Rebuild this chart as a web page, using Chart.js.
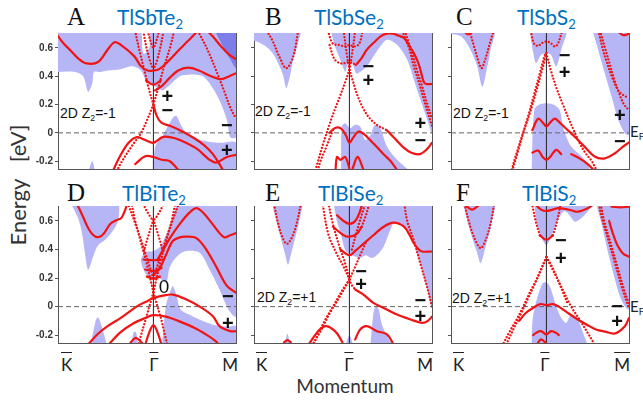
<!DOCTYPE html>
<html>
<head>
<meta charset="utf-8">
<script src="https://cdn.jsdelivr.net/npm/chart.js@4.4.1/dist/chart.umd.min.js"></script>
<style>
html, body { margin: 0; padding: 0; background: #fff; }
#wrap { position: relative; width: 643px; height: 400px; overflow: hidden; }
#wrap canvas { position: absolute; }
.t { position: absolute; white-space: nowrap; line-height: 1; }
.let { font-family: "Liberation Serif", serif; font-size: 25px; color: #111; }
.ttl { font-family: Lato, sans-serif; font-size: 21px; color: #0070c0; }
.ttl sub, .z sub, .ef sub { font-size: 0.62em; vertical-align: -0.3em; line-height: 0; }
.z { font-family: "Liberation Sans", Arial, sans-serif; font-size: 14px; color: #111; }
.ef { font-family: Lato, sans-serif; font-size: 15px; color: #222; }
.kp { font-family: Lato, sans-serif; font-size: 17px; color: #222; }
.kp span { display: inline-block; border-top: 1.6px solid #222; padding-top: 3px; line-height: 1; }
.ax { font-family: Lato, sans-serif; font-size: 19px; color: #333; }
</style>
</head>
<body>
<div id="wrap">
  <div class="t let" style="left:67px;top:4px">A</div>
  <div class="t let" style="left:265px;top:4px">B</div>
  <div class="t let" style="left:456px;top:4px">C</div>
  <div class="t let" style="left:67px;top:180px">D</div>
  <div class="t let" style="left:265px;top:180px">E</div>
  <div class="t let" style="left:456px;top:180px">F</div>

  <div class="t ttl" style="left:117px;top:6px">TlSbTe<sub>2</sub></div>
  <div class="t ttl" style="left:314px;top:6px">TlSbSe<sub>2</sub></div>
  <div class="t ttl" style="left:517px;top:6px">TlSbS<sub>2</sub></div>
  <div class="t ttl" style="left:122px;top:182px">TlBiTe<sub>2</sub></div>
  <div class="t ttl" style="left:318px;top:182px">TlBiSe<sub>2</sub></div>
  <div class="t ttl" style="left:522px;top:182px">TlBiS<sub>2</sub></div>

  <div class="t z" style="left:60px;top:106px">2D Z<sub>2</sub>=-1</div>
  <div class="t z" style="left:255px;top:104px">2D Z<sub>2</sub>=-1</div>
  <div class="t z" style="left:453px;top:106px">2D Z<sub>2</sub>=-1</div>
  <div class="t z" style="left:257px;top:290px">2D Z<sub>2</sub>=+1</div>
  <div class="t z" style="left:452px;top:291px">2D Z<sub>2</sub>=+1</div>

  <div class="t ef" style="left:630px;top:124px">E<sub>F</sub></div>
  <div class="t ef" style="left:630px;top:299px">E<sub>F</sub></div>

  <div class="t kp" style="left:61px;top:352px"><span>K</span></div>
  <div class="t kp" style="left:154px;top:352px;transform:translateX(-50%)"><span>Γ</span></div>
  <div class="t kp" style="left:238px;top:352px;transform:translateX(-100%)"><span>M</span></div>
  <div class="t kp" style="left:256px;top:352px"><span>K</span></div>
  <div class="t kp" style="left:349px;top:352px;transform:translateX(-50%)"><span>Γ</span></div>
  <div class="t kp" style="left:433px;top:352px;transform:translateX(-100%)"><span>M</span></div>
  <div class="t kp" style="left:453px;top:352px"><span>K</span></div>
  <div class="t kp" style="left:545px;top:352px;transform:translateX(-50%)"><span>Γ</span></div>
  <div class="t kp" style="left:630px;top:352px;transform:translateX(-100%)"><span>M</span></div>

  <div class="t ax" style="left:345px;top:376px;transform:translateX(-50%)">Momentum</div>
  <div class="t ax" style="left:18px;top:185px;font-size:22px;transform:translate(-50%,-50%) rotate(-90deg);white-space:pre">Energy   [eV]</div>
</div>

<script>
// momentum axis: K at -1.155, Gamma at 0, M at 1 ; energy in eV
const kMin = -1.155, kMax = 1.0;
const eMin = -0.255, eMax = 0.705;
const eTicks = [-0.2, 0, 0.2, 0.4, 0.6];

// ---------- TlSbTe2 ----------
const shadeA = [
  [[-1.155,0.75],[-0.19,0.75],[-0.12,0.56],[-0.05,0.6],[-0.02,0.75],[1.0,0.75],[1.0,-0.03],[0.93,-0.03],[0.89,0.09],[0.8,0.23],[0.68,0.35],[0.6,0.40],[0.52,0.41],[0.42,0.41],[0.32,0.40],[0.2,0.34],[0.11,0.30],[0.05,0.32],[-0.03,0.34],[-0.1,0.38],[-0.15,0.44],[-0.25,0.47],[-0.4,0.45],[-0.55,0.44],[-0.65,0.43],[-0.72,0.43],[-0.74,0.35],[-0.79,0.29],[-0.85,0.40],[-0.95,0.43],[-1.155,0.43]],
  [[0.0,-0.3],[0.02,-0.1],[0.1,-0.03],[0.18,0.05],[0.24,0.11],[0.28,0.12],[0.33,0.06],[0.4,0.0],[0.5,-0.04],[0.65,-0.06],[0.8,-0.07],[1.0,-0.07],[1.0,-0.3]],
  [[-0.8,-0.3],[-0.74,-0.2],[-0.7,-0.3]]
];
const darkA = [
  [[0.72,0.75],[1.0,0.75],[1.0,0.46],[0.93,0.52],[0.85,0.6],[0.78,0.68]]
];
const solidA = [
  [[-1.2,0.72],[-1.1,0.64],[-1.0,0.58],[-0.9,0.52],[-0.81,0.49],[-0.67,0.50],[-0.55,0.59],[-0.47,0.64],[-0.39,0.62],[-0.23,0.54],[-0.15,0.47],[-0.07,0.44],[0,0.44],[0.07,0.45],[0.17,0.50],[0.3,0.58],[0.42,0.65],[0.52,0.71],[0.56,0.74]],
  [[0.62,0.74],[0.72,0.68],[0.82,0.61],[0.92,0.55],[1.0,0.52]],
  [[0.02,0.30],[0.1,0.33],[0.2,0.39],[0.3,0.44],[0.42,0.46],[0.55,0.44],[0.7,0.40],[0.82,0.38],[0.92,0.40],[1.0,0.42]],
  [[-0.5,-0.28],[-0.4,-0.16],[-0.3,-0.07],[-0.2,-0.03],[-0.1,-0.05],[0,-0.07],[0.11,-0.03],[0.2,-0.03],[0.32,-0.05],[0.52,-0.11],[0.68,-0.19],[0.76,-0.21],[0.89,-0.17],[1.0,-0.155]],
  [[0,0.2],[0.04,0.12],[0.1,0.07],[0.2,0.05],[0.35,0.01],[0.5,-0.04],[0.62,-0.09],[0.72,-0.15],[0.8,-0.22],[0.86,-0.28]],
  [[-0.22,-0.22],[-0.1,-0.165],[0,-0.17],[0.1,-0.19],[0.2,-0.2],[0.3,-0.26]],
  [[-0.09,0.37],[0,0.34],[0.09,0.37]]
];
const dottedA = [
  [[0.54,0.72],[0.66,0.58],[0.76,0.44],[0.86,0.29],[0.93,0.18],[1.0,0.10]],
  [[0,0.2],[-0.05,0.3],[-0.1,0.42],[-0.16,0.56],[-0.23,0.74]],
  [[0,0.2],[0.06,0.32],[0.12,0.45],[0.2,0.6],[0.26,0.74]],
  [[0,0.2],[-0.07,0.1],[-0.15,0.0],[-0.27,-0.1],[-0.4,-0.22],[-0.45,-0.28]],
  [[-0.13,0.74],[-0.07,0.57],[0,0.46],[0.07,0.57],[0.13,0.74]],
  [[-0.08,0.74],[-0.03,0.64],[0,0.6],[0.03,0.64],[0.08,0.74]]
];
const signsA = [[0.17,0.25,'+'],[0.17,0.15,'−'],[0.89,0.045,'−'],[0.89,-0.13,'+']];

// ---------- TlSbSe2 ----------
const shadeB = [
  [[-1.155,0.75],[-0.6,0.75],[-0.62,0.634],[-0.68,0.516],[-0.72,0.40],[-0.764,0.316],[-0.8,0.40],[-0.846,0.47],[-0.93,0.563],[-1.01,0.61],[-1.1,0.64],[-1.155,0.65]],
  [[-0.24,0.75],[1.0,0.75],[1.0,0.0],[0.943,0.092],[0.86,0.233],[0.78,0.375],[0.70,0.516],[0.577,0.622],[0.455,0.657],[0.374,0.61],[0.29,0.54],[0.21,0.47],[0.13,0.43],[0.08,0.42],[0.05,0.47],[0.0,0.52],[-0.03,0.47],[-0.05,0.43],[-0.11,0.516],[-0.175,0.61]],
  [[-0.1,-0.3],[-0.093,0.045],[-0.053,0.068],[0.008,0.033],[0.069,0.057],[0.13,0.045],[0.19,-0.05],[0.25,-0.02],[0.31,0.057],[0.374,0.033],[0.455,-0.097],[0.577,-0.19],[0.8,-0.3]]
];
const solidB = [
  [[0.08,0.48],[0.15,0.53],[0.21,0.586],[0.3,0.64],[0.374,0.68],[0.45,0.70],[0.53,0.70],[0.6,0.685],[0.66,0.67],[0.72,0.62],[0.78,0.563],[0.83,0.5],[0.86,0.445],[0.9,0.36],[0.93,0.345],[1.0,0.345]],
  [[-0.24,0.0],[-0.175,0.035],[-0.1,0.03],[-0.04,-0.02],[0,-0.07],[0.05,-0.03],[0.11,0.01],[0.18,-0.01],[0.25,-0.05],[0.333,-0.1],[0.43,-0.16],[0.5,-0.2],[0.55,-0.24],[0.6,-0.28]],
  [[0.45,0.02],[0.55,-0.04],[0.65,-0.1],[0.75,-0.14],[0.85,-0.15],[0.93,-0.12],[1.0,-0.07]],
  [[-0.17,-0.28],[-0.15,-0.17],[-0.11,-0.19],[-0.05,-0.17],[0,-0.25]],
  [[0.04,-0.25],[0.1,-0.17],[0.17,-0.26]]
];
const dottedB = [
  [[-1.0,0.72],[-0.93,0.65],[-0.85,0.54],[-0.764,0.457],[-0.68,0.54],[-0.62,0.72]],
  [[-0.26,0.72],[-0.2,0.63],[-0.12,0.62],[-0.05,0.61],[0.0,0.62],[0.06,0.61],[0.12,0.63],[0.16,0.72]],
  [[-0.24,0.62],[-0.18,0.52],[-0.1,0.49],[0,0.50],[0.08,0.48]],
  [[0.64,0.72],[0.72,0.6],[0.78,0.47],[0.84,0.36],[0.88,0.28],[0.94,0.16],[1.0,0.05]],
  [[0.67,0.72],[0.75,0.58],[0.82,0.44],[0.88,0.33],[0.94,0.21],[1.0,0.1]],
  [[0,0.445],[-0.05,0.36],[-0.114,0.257],[-0.18,0.16],[-0.236,0.068],[-0.32,-0.08],[-0.40,-0.24],[-0.42,-0.28]],
  [[-0.2,0.02],[-0.28,-0.1],[-0.35,-0.2],[-0.39,-0.28]],
  [[0,0.445],[0.04,0.37],[0.1,0.26],[0.17,0.17],[0.25,0.1],[0.35,0.05],[0.45,0.02]],
  [[0,0.445],[-0.03,0.55],[-0.07,0.72]],
  [[0,0.445],[0.03,0.55],[0.07,0.72]]
];
const signsB = [[0.23,0.46,'−'],[0.23,0.36,'+'],[0.86,0.057,'+'],[0.86,-0.06,'−']];

// ---------- TlSbS2 ----------
const shadeC = [
  [[-1.155,0.75],[-0.634,0.75],[-0.675,0.587],[-0.715,0.469],[-0.776,0.327],[-0.837,0.469],[-0.92,0.587],[-1.03,0.68],[-1.155,0.70]],
  [[-0.207,0.75],[0.24,0.75],[0.179,0.587],[0.118,0.469],[0.057,0.55],[0,0.563],[-0.065,0.55],[-0.126,0.492],[-0.167,0.587]],
  [[0.545,0.75],[1.0,0.75],[1.0,-0.014],[0.95,-0.002],[0.87,0.092],[0.789,0.257],[0.707,0.42],[0.626,0.587]],
  [[-0.18,-0.3],[-0.146,0.163],[-0.065,0.205],[0.06,0.205],[0.158,0.163],[0.2,0.045],[0.25,-0.04],[0.3,-0.097],[0.463,-0.19],[0.56,-0.3]]
];
const solidC = [
  [[-0.17,0.02],[-0.1,0.1],[-0.04,0.07],[0,0.045],[0.04,0.07],[0.1,0.1],[0.15,0.08],[0.22,0.04],[0.34,-0.026],[0.45,-0.09],[0.585,-0.167],[0.707,-0.18],[0.83,-0.144],[0.92,-0.1],[1.0,-0.068]],
  [[-0.17,-0.14],[-0.1,-0.125],[-0.045,-0.17],[0,-0.19],[0.045,-0.17],[0.12,-0.12],[0.18,-0.15]],
  [[0.3,-0.15],[0.4,-0.18],[0.5,-0.22],[0.6,-0.28]],
  [[0.86,0.72],[0.93,0.69],[1.0,0.70]],
  [[-1.0,0.72],[-0.95,0.695],[-0.88,0.72]]
];
const dottedC = [
  [[-0.93,0.72],[-0.88,0.62],[-0.83,0.52],[-0.785,0.457],[-0.74,0.52],[-0.69,0.62],[-0.64,0.72]],
  [[-0.19,0.72],[-0.15,0.63],[-0.1,0.615],[-0.05,0.635],[0,0.645],[0.05,0.635],[0.1,0.61],[0.14,0.63],[0.19,0.72]],
  [[0,0.563],[-0.05,0.45],[-0.12,0.3],[-0.2,0.14],[-0.28,0.0],[-0.34,-0.12],[-0.38,-0.2],[-0.42,-0.28]],
  [[-0.02,0.55],[-0.08,0.42],[-0.15,0.27],[-0.23,0.1],[-0.3,-0.03],[-0.37,-0.16],[-0.43,-0.28]],
  [[0,0.563],[0.05,0.45],[0.12,0.32],[0.2,0.2],[0.27,0.1],[0.33,0.02],[0.4,-0.07],[0.47,-0.14],[0.55,-0.2],[0.62,-0.28]],
  [[0.63,0.72],[0.68,0.6],[0.72,0.52],[0.79,0.40],[0.87,0.30],[0.95,0.26],[1.0,0.25]],
  [[0.65,0.72],[0.71,0.6],[0.76,0.5],[0.82,0.38],[0.88,0.28],[0.94,0.2],[1.0,0.16]]
];
const signsC = [[0.22,0.54,'−'],[0.22,0.417,'+'],[0.89,0.113,'+'],[0.89,-0.066,'−']];

// ---------- TlBiTe2 ----------
const shadeD = [
  [[-1.03,0.75],[-0.45,0.75],[-0.42,0.62],[-0.48,0.54],[-0.58,0.47],[-0.67,0.43],[-0.73,0.35],[-0.79,0.26],[-0.83,0.38],[-0.86,0.5],[-0.9,0.6],[-0.96,0.68]],
  [[0.3,0.75],[1.0,0.75],[1.0,-0.07],[0.93,-0.04],[0.85,0.05],[0.80,0.12],[0.68,0.26],[0.56,0.377],[0.40,0.39],[0.3,0.36],[0.2,0.28],[0.155,0.167],[0.1,0.19],[0.05,0.2],[-0.05,0.2],[-0.12,0.26],[-0.15,0.33],[-0.1,0.38],[0.0,0.39],[0.08,0.42],[0.15,0.5],[0.22,0.6]],
  [[0.1,-0.3],[0.15,0.0],[0.2,0.1],[0.235,0.145],[0.28,0.08],[0.33,-0.02],[0.45,-0.06],[0.6,-0.1],[0.75,-0.13],[0.9,-0.14],[1.0,-0.14],[1.0,-0.3]],
  [[-0.77,-0.3],[-0.7,-0.1],[-0.67,-0.075],[-0.62,-0.15],[-0.55,-0.3]],
  [[-0.27,-0.3],[-0.24,-0.18],[-0.21,-0.18],[-0.18,-0.3]]
];
const solidD = [
  [[-1.0,0.76],[-0.93,0.72],[-0.86,0.64],[-0.78,0.54],[-0.7,0.49],[-0.62,0.50],[-0.52,0.58],[-0.45,0.605],[-0.39,0.62],[-0.34,0.68],[-0.31,0.74]],
  [[0.05,0.33],[0.12,0.40],[0.2,0.48],[0.32,0.58],[0.44,0.66],[0.52,0.69],[0.6,0.66],[0.7,0.59],[0.78,0.53],[0.86,0.485],[0.93,0.50],[1.0,0.515]],
  [[0.0,0.22],[0.08,0.27],[0.15,0.36],[0.235,0.46],[0.32,0.485],[0.4,0.49],[0.52,0.48],[0.64,0.40],[0.76,0.28],[0.89,0.145],[1.0,0.098]],
  [[-0.8,-0.27],[-0.67,-0.19],[-0.55,-0.135],[-0.39,-0.077],[-0.19,0.005],[-0.07,0.04],[0,0.06],[0.1,0.075],[0.235,0.084],[0.4,0.049],[0.56,0.0],[0.72,-0.067],[0.8,-0.137],[0.93,-0.172],[1.0,-0.172]],
  [[-0.55,-0.27],[-0.4,-0.18],[-0.25,-0.12],[-0.1,-0.08],[0,-0.06],[0.15,-0.07],[0.3,-0.1],[0.5,-0.15],[0.65,-0.2],[0.75,-0.24],[0.8,-0.27]],
  [[-0.1,-0.27],[-0.05,-0.18],[0,-0.13],[0.05,-0.18],[0.1,-0.27]],
  [[-0.12,0.33],[0,0.325],[0.12,0.33]],
  [[-0.1,0.26],[0,0.25],[0.1,0.27]],
  [[-0.08,0.21],[0,0.195],[0.08,0.21]],
  [[-0.3,-0.27],[-0.22,-0.22],[-0.16,-0.24],[-0.12,-0.27]]
];
const dottedD = [
  [[0,0.1],[-0.08,0.3],[-0.15,0.45],[-0.22,0.6],[-0.27,0.74]],
  [[0,0.2],[-0.1,0.38],[-0.2,0.55],[-0.32,0.74]],
  [[0,0.1],[0.08,0.3],[0.15,0.45],[0.22,0.6],[0.27,0.74]],
  [[0,0.2],[0.1,0.38],[0.2,0.55],[0.32,0.74]],
  [[-0.14,0.74],[-0.07,0.66],[0,0.61],[0.07,0.66],[0.14,0.74]],
  [[0,0.61],[-0.06,0.5],[-0.12,0.38]],
  [[0,0.61],[0.06,0.5],[0.12,0.38]],
  [[0,0.1],[-0.05,0.0],[-0.1,-0.1],[-0.15,-0.2],[-0.18,-0.27]],
  [[0,0.1],[0.05,0.0],[0.1,-0.1],[0.14,-0.2],[0.17,-0.27]]
];
const signsD = [[0.13,0.13,'0'],[0.9,0.063,'−'],[0.9,-0.125,'+']];

// ---------- TlBiSe2 ----------
const shadeE = [
  [[-0.947,0.75],[-0.58,0.75],[-0.6,0.62],[-0.663,0.467],[-0.71,0.36],[-0.744,0.293],[-0.78,0.37],[-0.825,0.467],[-0.885,0.6]],
  [[-0.2,0.75],[1.0,0.75],[1.0,0.0],[0.943,0.119],[0.88,0.258],[0.82,0.374],[0.74,0.49],[0.659,0.56],[0.6,0.585],[0.537,0.584],[0.47,0.5],[0.415,0.421],[0.35,0.37],[0.272,0.34],[0.2,0.36],[0.13,0.34],[0.069,0.351],[0.0,0.37],[-0.053,0.398],[-0.1,0.5],[-0.154,0.607]],
  [[0.25,-0.3],[0.28,-0.1],[0.3,-0.02],[0.33,0.0],[0.36,-0.03],[0.39,-0.12],[0.45,-0.2],[0.56,-0.3]],
  [[-0.06,-0.3],[0,-0.2],[0.06,-0.3]],
  [[-0.79,-0.3],[-0.75,-0.19],[-0.71,-0.3]]
];
const solidE = [
  [[-0.15,0.64],[-0.07,0.60],[0,0.58],[0.07,0.60],[0.13,0.67],[0.16,0.74]],
  [[-0.2,0.56],[-0.07,0.50],[0,0.49],[0.09,0.51],[0.15,0.56]],
  [[-0.11,0.40],[0,0.36],[0.07,0.39],[0.17,0.44],[0.29,0.50],[0.415,0.56],[0.537,0.588],[0.66,0.56],[0.73,0.5],[0.78,0.444],[0.84,0.4],[0.88,0.386],[1.0,0.386]],
  [[0.07,0.12],[0.17,0.084],[0.29,0.026],[0.415,-0.009],[0.577,-0.056],[0.74,-0.09],[0.88,-0.114],[0.95,-0.1],[1.0,-0.07]],
  [[-0.5,-0.27],[-0.36,-0.16],[-0.276,-0.137],[-0.175,-0.172],[-0.114,-0.219],[-0.07,-0.27]],
  [[0.07,-0.23],[0.13,-0.16],[0.21,-0.137],[0.333,-0.172],[0.455,-0.195],[0.54,-0.27]],
  [[-0.79,-0.25],[-0.75,-0.235],[-0.71,-0.25]]
];
const dottedE = [
  [[-0.92,0.74],[-0.87,0.6],[-0.82,0.5],[-0.76,0.44],[-0.7,0.48],[-0.64,0.58],[-0.58,0.74]],
  [[0.66,0.74],[0.7,0.6],[0.78,0.465],[0.86,0.3],[0.94,0.14],[1.0,0.0]],
  [[0,0.19],[-0.07,0.28],[-0.154,0.37],[-0.256,0.51],[-0.33,0.74]],
  [[0,0.19],[-0.05,0.3],[-0.12,0.42],[-0.2,0.58],[-0.26,0.74]],
  [[0,0.19],[0.07,0.28],[0.13,0.36],[0.2,0.45]],
  [[0,0.19],[-0.114,0.072],[-0.236,-0.044],[-0.337,-0.16],[-0.45,-0.27]],
  [[0,0.19],[-0.09,0.11],[-0.2,0.0],[-0.3,-0.1],[-0.4,-0.22],[-0.44,-0.27]],
  [[0,0.19],[0.03,0.15],[0.07,0.12]],
  [[0.03,0.40],[0.1,0.55],[0.2,0.74]],
  [[0.15,0.56],[0.2,0.64],[0.25,0.74]]
];
const signsE = [[0.14,0.24,'−'],[0.14,0.147,'+'],[0.86,0.037,'−'],[0.86,-0.077,'+']];

// ---------- TlBiS2 ----------
const shadeF = [
  [[-1.02,0.75],[-0.634,0.75],[-0.66,0.6],[-0.736,0.42],[-0.797,0.305],[-0.84,0.38],[-0.878,0.444],[-0.95,0.58]],
  [[-0.15,0.75],[0.6,0.75],[0.545,0.7],[0.463,0.642],[0.40,0.61],[0.34,0.595],[0.28,0.64],[0.22,0.67],[0.16,0.63],[0.118,0.584],[0.057,0.49],[0,0.433],[-0.065,0.49],[-0.126,0.607]],
  [[0.6,0.75],[1.0,0.75],[1.0,-0.02],[0.95,0.002],[0.89,0.072],[0.83,0.188],[0.768,0.328],[0.71,0.47],[0.667,0.584],[0.62,0.68]],
  [[-0.18,-0.3],[-0.167,-0.09],[-0.106,0.072],[-0.05,0.16],[-0.024,0.17],[0.02,0.16],[0.057,0.119],[0.118,0.002],[0.18,-0.08],[0.24,-0.114],[0.3,-0.056],[0.38,-0.09],[0.443,-0.184],[0.52,-0.3]]
];
const solidF = [
  [[-0.98,0.71],[-0.9,0.68],[-0.82,0.71]],
  [[-0.14,0.72],[-0.065,0.68],[0,0.67],[0.077,0.68],[0.14,0.69],[0.22,0.685],[0.3,0.675],[0.38,0.665],[0.5,0.69],[0.58,0.72]],
  [[-0.08,0.5],[0,0.468],[0.08,0.5]],
  [[0.79,0.70],[0.9,0.695],[1.0,0.70]],
  [[0.76,0.6],[0.8,0.52],[0.86,0.43],[0.93,0.37],[1.0,0.35]],
  [[-0.33,-0.1],[-0.25,-0.045],[-0.15,-0.005],[-0.07,0.018],[0,0.01],[0.08,0.018],[0.15,0.0],[0.25,-0.04],[0.38,-0.09],[0.5,-0.13],[0.6,-0.16],[0.707,-0.175],[0.83,-0.188],[0.95,-0.137],[1.0,-0.08]],
  [[-0.16,-0.2],[-0.126,-0.184],[-0.065,-0.172],[0,-0.195],[0.057,-0.172],[0.118,-0.184],[0.15,-0.2]],
  [[-0.12,-0.27],[-0.065,-0.23],[0,-0.26]]
];
const dottedF = [
  [[-1.0,0.74],[-0.94,0.6],[-0.878,0.49],[-0.797,0.41],[-0.736,0.467],[-0.675,0.584],[-0.626,0.74]],
  [[-0.08,0.5],[-0.13,0.6],[-0.18,0.74]],
  [[0.08,0.5],[0.13,0.6],[0.18,0.74]],
  [[0,0.347],[-0.06,0.27],[-0.12,0.19],[-0.2,0.1],[-0.28,0.0],[-0.36,-0.09],[-0.45,-0.18],[-0.53,-0.27]],
  [[0,0.347],[-0.07,0.25],[-0.14,0.16],[-0.22,0.06],[-0.3,-0.04],[-0.4,-0.16],[-0.49,-0.27]],
  [[0,0.347],[0.057,0.28],[0.18,0.14],[0.3,0.0],[0.4,-0.09],[0.5,-0.184],[0.59,-0.27]],
  [[0,0.347],[0.06,0.29],[0.13,0.2],[0.2,0.1],[0.25,0.03]],
  [[0.63,0.74],[0.667,0.63],[0.75,0.467],[0.83,0.305],[0.91,0.142],[0.99,0.002]],
  [[0.65,0.74],[0.7,0.6],[0.78,0.44],[0.86,0.28],[0.94,0.12],[1.0,0.02]]
];
const signsF = [[0.175,0.456,'−'],[0.175,0.328,'+'],[0.855,-0.007,'−'],[0.855,-0.11,'+']];

// panel layout (plot area in page pixels)
const panels = [
  {left: 58,  top: 33,  h: 136, labels: true,  shade: shadeA, dark: darkA, solid: solidA, dotted: dottedA, signs: signsA},
  {left: 254, top: 33,  h: 136, labels: false, shade: shadeB, dark: [],    solid: solidB, dotted: dottedB, signs: signsB},
  {left: 451, top: 33,  h: 136, labels: false, shade: shadeC, dark: [],    solid: solidC, dotted: dottedC, signs: signsC},
  {left: 58,  top: 206, h: 137, labels: true,  shade: shadeD, dark: [],    solid: solidD, dotted: dottedD, signs: signsD},
  {left: 254, top: 206, h: 137, labels: false, shade: shadeE, dark: [],    solid: solidE, dotted: dottedE, signs: signsE},
  {left: 451, top: 206, h: 137, labels: false, shade: shadeF, dark: [],    solid: solidF, dotted: dottedF, signs: signsF}
];

const plotW = 178, axisW = 30, padV = 8, padR = 4;
const RED = '#f01414', SHADE = '#b6b6f6', DARK = '#7e7eea', FRAME = '#555';

Chart.defaults.font.family = '"Liberation Sans", Arial, sans-serif';

// +/- parity marks, placed in data coordinates
const signPlugin = {
  id: 'signs',
  afterDatasetsDraw(chart, args, opts) {
    const {ctx, scales: {x, y}} = chart;
    ctx.save();
    ctx.fillStyle = '#111';
    ctx.textAlign = 'center';
    ctx.textBaseline = 'middle';
    (opts.items || []).forEach(([k, e, t]) => {
      ctx.font = t === '0' ? '19px "Liberation Sans"' : 'bold 20px "Liberation Sans"';
      ctx.fillText(t, x.getPixelForValue(k), y.getPixelForValue(e));
    });
    ctx.restore();
  }
};

function curve(pts, width, dash, cap, order) {
  return {data: pts, borderColor: RED, borderWidth: width, borderDash: dash, borderCapStyle: cap,
          fill: false, tension: 0.35, pointRadius: 0, order: order};
}
function area(pts, color, order) {
  return {data: pts, backgroundColor: color, borderWidth: 0, fill: 'shape',
          tension: 0.3, pointRadius: 0, order: order};
}

const wrap = document.getElementById('wrap');
panels.forEach(p => {
  const cv = document.createElement('canvas');
  cv.width = axisW + plotW + padR;
  cv.height = p.h + 2 * padV;
  cv.style.left = (p.left - axisW) + 'px';
  cv.style.top = (p.top - padV) + 'px';
  wrap.appendChild(cv);

  const datasets = [];
  p.shade.forEach(s => datasets.push(area(s, SHADE, 6)));
  p.dark.forEach(s => datasets.push(area(s, DARK, 5)));
  datasets.push({data: [[kMin, 0], [kMax, 0]], borderColor: '#666', borderWidth: 1,
                 borderDash: [5, 3], pointRadius: 0, fill: false, order: 4});
  datasets.push({data: [[0, -1], [0, 1]], borderColor: '#222', borderWidth: 1,
                 pointRadius: 0, fill: false, order: 3});
  // sparse dotted bands: round dots
  p.dotted.forEach(s => datasets.push(curve(s, 2.3, [0.01, 3.3], 'round', 2)));
  // dense bands: dots so close they read as a line
  p.solid.forEach(s => datasets.push(curve(s, 2.2, [], 'round', 1)));

  new Chart(cv, {
    type: 'line',
    data: {datasets: datasets},
    options: {
      responsive: false,
      animation: false,
      events: [],
      layout: {padding: {top: padV, bottom: padV, left: 0, right: padR}},
      plugins: {legend: {display: false}, tooltip: {enabled: false}, signs: {items: p.signs}},
      scales: {
        x: {
          type: 'linear', min: kMin, max: kMax,
          ticks: {display: false},
          grid: {drawOnChartArea: false, drawTicks: false},
          border: {color: FRAME},
          afterFit: s => { s.height = 0; }
        },
        y: {
          min: eMin, max: eMax,
          afterBuildTicks: s => { s.ticks = eTicks.map(v => ({value: v})); },
          ticks: {
            display: p.labels, padding: 2, color: '#333',
            font: {size: 10, weight: 'bold'},
            callback: v => v === 0 ? '0' : v.toFixed(1)
          },
          grid: {drawOnChartArea: false, tickLength: 3, color: FRAME},
          border: {color: FRAME},
          afterFit: s => { s.width = axisW; }
        },
        yr: {
          position: 'right', min: eMin, max: eMax,
          ticks: {display: false},
          grid: {drawOnChartArea: false, drawTicks: false},
          border: {color: FRAME},
          afterFit: s => { s.width = 0; }
        }
      }
    },
    plugins: [signPlugin]
  });
});
</script>
</body>
</html>
